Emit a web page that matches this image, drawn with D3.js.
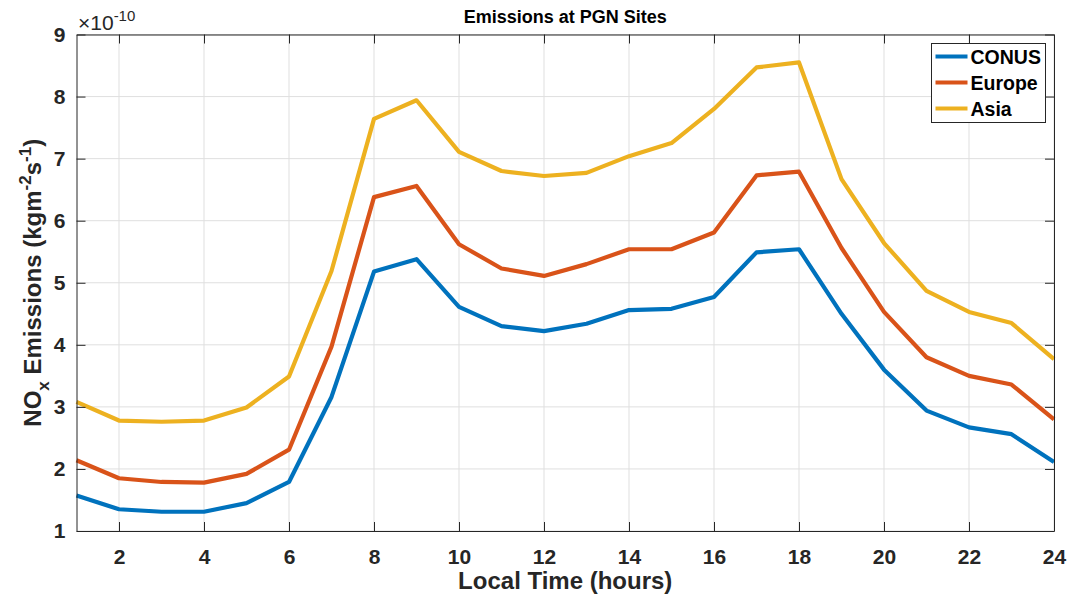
<!DOCTYPE html>
<html>
<head>
<meta charset="utf-8">
<script src="https://cdn.jsdelivr.net/npm/d3@7"></script>
<style>
  html, body { margin: 0; padding: 0; background: #fff; }
  svg { display: block; font-family: Arial, "Liberation Sans", Helvetica, sans-serif; }
</style>
</head>
<body>
<svg id="chart" width="1070" height="598"></svg>
<script>
// Hourly NOx emissions (units of 1e-10 kg m^-2 s^-1)
const hours = d3.range(1, 25);
const conus  = [1.57, 1.35, 1.31, 1.31, 1.45, 1.79, 3.16, 5.18, 5.38, 4.61, 4.30, 4.22, 4.34, 4.56, 4.58, 4.77, 5.49, 5.54, 4.50, 3.60, 2.94, 2.67, 2.56, 2.11];
const europe = [2.14, 1.85, 1.79, 1.78, 1.92, 2.31, 3.97, 6.38, 6.56, 5.62, 5.23, 5.11, 5.30, 5.54, 5.54, 5.81, 6.73, 6.79, 5.56, 4.53, 3.80, 3.50, 3.36, 2.80];
const asia   = [3.08, 2.78, 2.76, 2.78, 2.99, 3.49, 5.19, 7.64, 7.94, 7.11, 6.80, 6.72, 6.77, 7.04, 7.25, 7.80, 8.47, 8.55, 6.67, 5.64, 4.87, 4.53, 4.35, 3.77];
const seriesNames = ["CONUS", "Europe", "Asia"];
const seriesColors = ["#0072BD", "#D95319", "#EDB120"];
const xTicks = [2, 4, 6, 8, 10, 12, 14, 16, 18, 20, 22, 24];
const yTicks = [1, 2, 3, 4, 5, 6, 7, 8, 9];

const series = [conus, europe, asia].map((vals, i) => ({
  name: seriesNames[i], color: seriesColors[i],
  values: vals.map((v, j) => ({ h: hours[j], v }))
}));

const svg = d3.select("#chart");
const margin = { left: 76.5, right: 1070 - 1054, top: 34.5, bottom: 598 - 531 };
const W = 1070, H = 598;
const x = d3.scaleLinear().domain([1, 24]).range([margin.left, W - margin.right]);
const y = d3.scaleLinear().domain([1, 9]).range([H - margin.bottom, margin.top]);
const axisColor = "#262626";
const tickLen = 9;

// grid
const grid = svg.append("g").attr("stroke", "#dfdfdf").attr("stroke-width", 1);
grid.selectAll("line.gx").data(xTicks).join("line")
  .attr("x1", d => x(d)).attr("x2", d => x(d))
  .attr("y1", y(1)).attr("y2", y(9));
grid.selectAll("line.gy").data(yTicks).join("line")
  .attr("y1", d => y(d)).attr("y2", d => y(d))
  .attr("x1", x(1)).attr("x2", x(24));

// lines
const line = d3.line().x(d => x(d.h)).y(d => y(d.v));
svg.append("g").selectAll("path").data(series).join("path")
  .attr("d", d => line(d.values))
  .attr("fill", "none")
  .attr("stroke", d => d.color)
  .attr("stroke-width", 4.2)
  .attr("stroke-linejoin", "round");

// axes (inward ticks)
const xAxis = d3.axisBottom(x).tickValues(xTicks).tickSizeInner(-tickLen).tickSizeOuter(0).tickPadding(18);
const yAxis = d3.axisLeft(y).tickValues(yTicks).tickSizeInner(-tickLen).tickSizeOuter(0).tickPadding(11);
const xTop = d3.axisTop(x).tickValues(xTicks).tickSizeInner(-tickLen).tickSizeOuter(0).tickFormat("");
const yRight = d3.axisRight(y).tickValues(yTicks).tickSizeInner(-tickLen).tickSizeOuter(0).tickFormat("");

function styleAxis(g) {
  g.selectAll(".domain").attr("stroke", axisColor).attr("stroke-width", 1);
  g.selectAll(".tick line").attr("stroke", axisColor).attr("stroke-width", 1);
  g.selectAll(".tick text").attr("fill", axisColor)
    .style("font-size", "21px").style("font-weight", "bold");
}
svg.append("g").attr("transform", `translate(0,${y(1)})`).call(xAxis).call(styleAxis);
svg.append("g").attr("transform", `translate(${x(1)},0)`).call(yAxis).call(styleAxis);
svg.append("g").attr("transform", `translate(0,${y(9)})`).call(xTop).call(styleAxis);
svg.append("g").attr("transform", `translate(${x(24)},0)`).call(yRight).call(styleAxis);
svg.selectAll(".tick text").attr("font-family", null);

// exponent label
const ex = svg.append("text").attr("x", 78).attr("y", 30)
  .attr("fill", axisColor).style("font-size", "21px");
ex.append("tspan").text("\u00d710");
ex.append("tspan").attr("dy", -9).style("font-size", "15px").text("-10");

// title
svg.append("text").attr("x", (x(1) + x(24)) / 2).attr("y", 23)
  .attr("text-anchor", "middle").attr("fill", "#000")
  .style("font-size", "18px").style("font-weight", "bold")
  .text("Emissions at PGN Sites");

// x label
svg.append("text").attr("x", (x(1) + x(24)) / 2).attr("y", 589)
  .attr("text-anchor", "middle").attr("fill", axisColor)
  .style("font-size", "24px").style("font-weight", "bold")
  .text("Local Time (hours)");

// y label
const yl = svg.append("text")
  .attr("transform", `translate(41,${(y(1) + y(9)) / 2}) rotate(-90)`)
  .attr("text-anchor", "middle").attr("fill", axisColor)
  .style("font-size", "24px").style("font-weight", "bold");
yl.append("tspan").text("NO");
yl.append("tspan").attr("dy", 8).style("font-size", "17px").text("x");
yl.append("tspan").attr("dy", -8).text(" Emissions (kgm");
yl.append("tspan").attr("dy", -10).style("font-size", "17px").text("-2");
yl.append("tspan").attr("dy", 10).text("s");
yl.append("tspan").attr("dy", -10).style("font-size", "17px").text("-1");
yl.append("tspan").attr("dy", 10).text(")");

// legend
const lg = svg.append("g").attr("transform", "translate(931.5,43.5)");
lg.append("rect").attr("width", 114).attr("height", 79)
  .attr("fill", "#fff").attr("stroke", "#262626").attr("stroke-width", 1);
const items = lg.selectAll("g.item").data(series).join("g")
  .attr("transform", (d, i) => `translate(0,${13 + i * 26})`);
items.append("line").attr("x1", 4).attr("x2", 36).attr("y1", 0).attr("y2", 0)
  .attr("stroke", d => d.color).attr("stroke-width", 4.2);
items.append("text").attr("x", 39).attr("y", 7)
  .attr("fill", "#000").style("font-size", "19.5px").style("font-weight", "bold")
  .text(d => d.name);
</script>
</body>
</html>
